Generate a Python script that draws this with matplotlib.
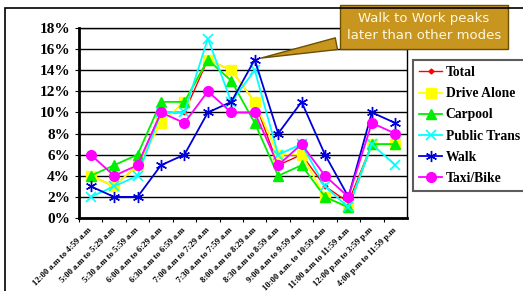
import matplotlib.pyplot as plt
import matplotlib.transforms as mtransforms
from matplotlib.patches import Rectangle

times = ["12:00 a.m to 4:59 a.m", "5:00 a.m to 5:29 a.m", "5:30 a.m to 5:59 a.m",
         "6:00 a.m to 6:29 a.m", "6:30 a.m to 6:59 a.m", "7:00 a.m to 7:29 a.m",
         "7:30 a.m to 7:59 a.m", "8:00 a.m to 8:29 a.m", "8:30 a.m to 8:59 a.m",
         "9:00 a.m to 9:59 a.m", "10:00 a.m. to 10:59 a.m", "11:00 a.m to 11:59 a.m",
         "12:00 p.m to 3:59 p.m", "4:00 p.m to 11:59 p.m"]

total = [4, 3, 5, 10, 10, 15, 14, 11, 5, 6, 3, 1.5, 7, 7]
drive_alone = [4, 3, 5, 9, 11, 15, 14, 11, 6, 6, 2, 1, 7, 7]
carpool = [4, 5, 6, 11, 11, 15, 13, 9, 4, 5, 2, 1, 7, 7]
public_trans = [2, 3, 4, 10, 10, 17, 11, 14, 6, 7, 3, 1, 7, 5]
walk = [3, 2, 2, 5, 6, 10, 11, 15, 8, 11, 6, 2, 10, 9]
taxi_bike = [6, 4, 5, 10, 9, 12, 10, 10, 5, 7, 4, 2, 9, 8]

W, H = 523, 291
fig = plt.figure(figsize=(W / 100, H / 100), dpi=100)
ax = fig.add_axes([79 / W, 1 - 218 / H, (407 - 79) / W, (218 - 28) / H])

# outer chart border (runs off the right and bottom edges)
fig.patches.append(Rectangle((5 / W, -0.2), 1.2, 1.2 - 8 / H, transform=fig.transFigure,
                             fill=False, ec='black', lw=1.2))

x = list(range(len(times)))
ax.plot(x, total, color='red', marker='D', ms=2.5, lw=1, label='Total')
ax.plot(x, drive_alone, color='#FFFF00', marker='s', ms=7, lw=1.3, label='Drive Alone')
ax.plot(x, carpool, color='#00EE00', marker='^', ms=7, lw=1.3, label='Carpool')
ax.plot(x, public_trans, color='#00FFFF', marker='x', ms=7, mew=1.2, lw=1.3, label='Public Trans')
ax.plot(x, walk, color='#0000DD', marker=(6, 2, 0), ms=8, mew=1, lw=1.3, label='Walk')
ax.plot(x, taxi_bike, color='#FF00FF', marker='o', ms=7, lw=1.3, label='Taxi/Bike')

ax.set_xlim(-0.5, len(times) - 0.5)
ax.set_ylim(0, 18)
ax.set_yticks(range(0, 19, 2))
ax.set_yticklabels([f"{v}%" for v in range(0, 19, 2)], fontfamily='Liberation Serif',
                   fontweight='bold', fontsize=11)
ax.set_xticks([i - 0.5 for i in x])
ax.set_xticklabels(times, rotation=45, ha='right', rotation_mode='anchor',
                   fontfamily='Liberation Serif', fontweight='bold', fontsize=6.2)
ax.tick_params(axis='x', length=3, direction='out', pad=3)
ax.tick_params(axis='y', length=3, direction='out')
shift = mtransforms.ScaledTranslation(9 / 100, 0, fig.dpi_scale_trans)
for lbl in ax.get_xticklabels():
    lbl.set_transform(lbl.get_transform() + shift)
ax.grid(axis='y', color='black', lw=1)
ax.set_axisbelow(True)
for s in ['left', 'bottom']:
    ax.spines[s].set_linewidth(2)
for s in ['top', 'right']:
    ax.spines[s].set_linewidth(1)

leg = fig.legend(loc='upper left', bbox_to_anchor=(413 / W, 1 - 60 / H), borderaxespad=0,
                 prop={'family': 'Liberation Serif', 'weight': 'bold', 'size': 9.8},
                 frameon=True, fancybox=False, edgecolor='#333333', handlelength=1.7,
                 labelspacing=0.6, borderpad=0.45, handletextpad=0.25)
leg.get_frame().set_linewidth(1.5)

gold = '#C8961E'
ax.annotate("Walk to Work peaks\nlater than other modes", xy=(7.15, 15.1),
            xytext=(424 / W, 1 - 27 / H), textcoords='figure fraction',
            ha='center', va='center', color='#FFF8E0', fontsize=9.5,
            fontfamily='DejaVu Sans', linespacing=1.35, annotation_clip=False,
            bbox=dict(boxstyle='square,pad=0.55', fc=gold, ec='#6B5000', lw=1),
            arrowprops=dict(arrowstyle='wedge,tail_width=0.9,shrink_factor=0.5',
                            fc=gold, ec='#6B5000', lw=1))

fig.savefig('out.png', dpi=100)
